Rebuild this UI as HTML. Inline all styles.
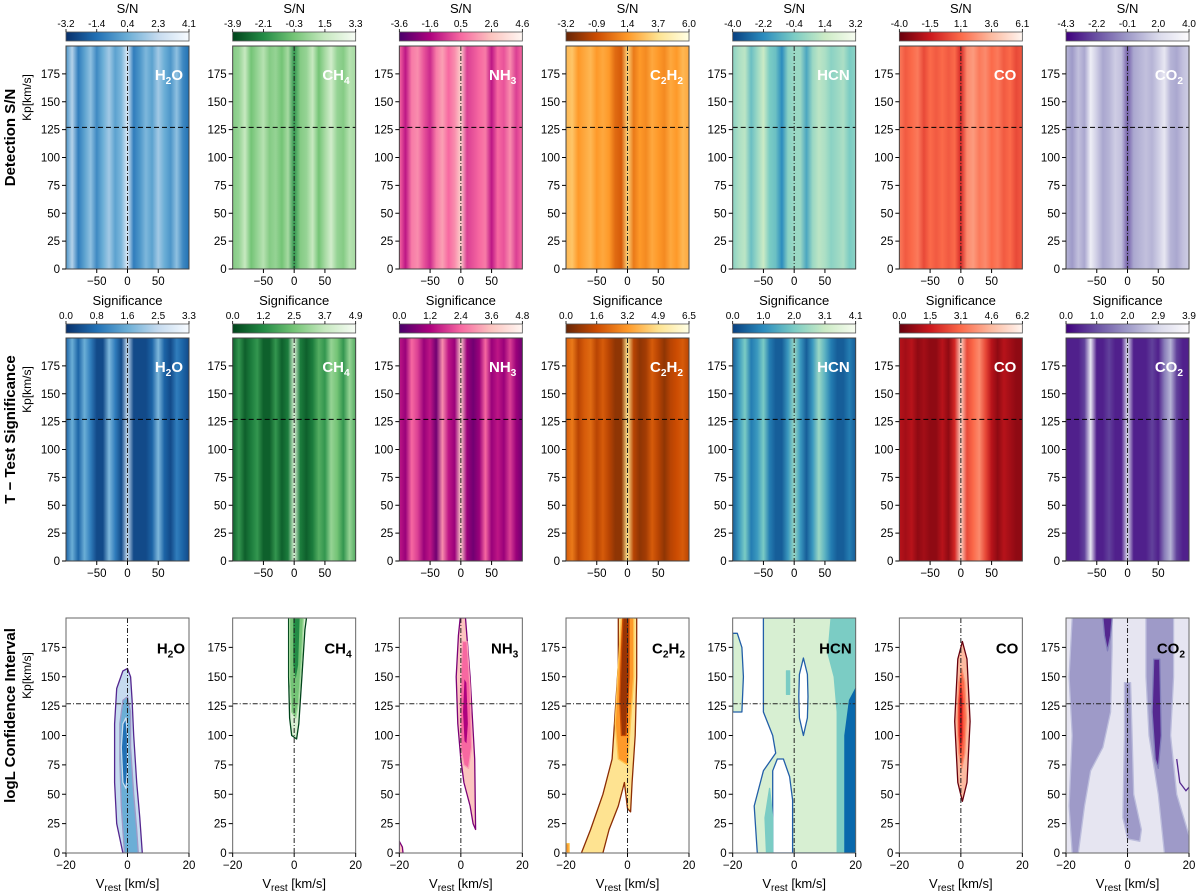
<!DOCTYPE html>
<html><head><meta charset="utf-8"><style>
html,body{margin:0;padding:0;background:#fff;}
svg{display:block;font-family:"Liberation Sans",Arial,sans-serif;}
</style></head><body>
<svg id="fig" width="1200" height="893" viewBox="0 0 1200 893" xmlns="http://www.w3.org/2000/svg"></svg>
<script>
const species = ['H2O','CH4','NH3','C2H2','HCN','CO','CO2'];
const speciesHtml = [['H','2','O'],['CH','4',''],['NH','3',''],['C','2','H','2'],['HCN'],['CO'],['CO','2','']];
const vGrid = [-100,-90,-80,-70,-60,-50,-40,-30,-20,-10,0,10,20,30,40,50,60,70,80,90,100];
const snRow = [
 [0.4,0.7,0.3,0.45,0.6,0.35,0.5,0.65,0.45,0.55,0.85,0.3,0.4,0.55,0.45,0.65,0.5,0.4,0.6,0.35,0.25],
 [0.55,0.6,0.75,0.5,0.6,0.7,0.55,0.6,0.5,0.65,0.3,0.55,0.6,0.75,0.5,0.65,0.8,0.6,0.55,0.7,0.65],
 [0.5,0.3,0.55,0.6,0.45,0.35,0.55,0.65,0.5,0.6,0.8,0.4,0.45,0.5,0.55,0.3,0.5,0.45,0.6,0.4,0.5],
 [0.6,0.65,0.5,0.55,0.6,0.5,0.55,0.5,0.35,0.3,0.7,0.4,0.5,0.45,0.55,0.5,0.45,0.55,0.5,0.6,0.55],
 [0.55,0.65,0.7,0.45,0.6,0.75,0.5,0.45,0.25,0.55,0.6,0.6,0.35,0.6,0.7,0.65,0.55,0.6,0.65,0.5,0.55],
 [0.55,0.45,0.5,0.55,0.4,0.5,0.45,0.5,0.45,0.5,0.3,0.6,0.65,0.55,0.6,0.5,0.55,0.45,0.5,0.4,0.45],
 [0.6,0.5,0.65,0.55,0.9,0.7,0.55,0.6,0.7,0.65,0.3,0.55,0.6,0.65,0.6,0.7,0.85,0.6,0.55,0.65,0.7]];
const sigRow = [
 [0.2,0.5,0.2,0.5,0.3,0.1,0.1,0.55,0.3,0.1,0.75,0.1,0.1,0.1,0.2,0.55,0.2,0.1,0.3,0.2,0.1],
 [0.1,0.3,0.1,0.2,0.3,0.1,0.1,0.3,0.1,0.2,0.85,0.2,0.1,0.2,0.4,0.3,0.6,0.5,0.3,0.6,0.4],
 [0.3,0.2,0.5,0.4,0.2,0.3,0.1,0.6,0.3,0.2,0.8,0.2,0.1,0.2,0.5,0.2,0.3,0.2,0.4,0.2,0.1],
 [0.3,0.4,0.2,0.3,0.35,0.2,0.3,0.2,0.1,0.1,0.75,0.2,0.1,0.15,0.3,0.2,0.1,0.2,0.25,0.3,0.2],
 [0.1,0.3,0.5,0.2,0.3,0.5,0.2,0.1,0.1,0.3,0.6,0.3,0.1,0.3,0.6,0.4,0.2,0.1,0.1,0.2,0.1],
 [0.2,0.15,0.2,0.1,0.15,0.1,0.1,0.2,0.1,0.3,0.85,0.4,0.5,0.6,0.4,0.2,0.1,0.2,0.15,0.1,0.1],
 [0.1,0.1,0.1,0.2,0.85,0.1,0.1,0.2,0.1,0.1,0.75,0.1,0.1,0.1,0.2,0.1,0.4,0.6,0.2,0.1,0.1]];
const snTicks = [[-3.2,-1.4,0.4,2.3,4.1],[-3.9,-2.1,-0.3,1.5,3.3],[-3.6,-1.6,0.5,2.6,4.6],[-3.2,-0.9,1.4,3.7,6.0],[-4.0,-2.2,-0.4,1.4,3.2],[-4.0,-1.5,1.1,3.6,6.1],[-4.3,-2.2,-0.1,2.0,4.0]];
const sigTicks = [[0.0,0.8,1.6,2.5,3.3],[0.0,1.2,2.5,3.7,4.9],[0.0,1.2,2.4,3.6,4.8],[0.0,1.6,3.2,4.9,6.5],[0.0,1.0,2.0,3.1,4.1],[0.0,1.5,3.1,4.6,6.2],[0.0,1.0,2.0,2.9,3.9]];
const kpTicks = [0,25,50,75,100,125,150,175];
const kpLine = 127;
const cmaps = [
 ['#08306b','#2171b5','#6baed6','#c6dbef','#f7fbff'],
 ['#00441b','#238b45','#74c476','#c7e9c0','#f7fcf5'],
 ['#49006a','#ae017e','#f768a1','#fcc5c0','#fff7f3'],
 ['#662506','#cc4c02','#fe9929','#fee391','#ffffe5'],
 ['#084081','#2b8cbe','#7bccc4','#ccebc5','#f7fcf0'],
 ['#67000d','#cb181d','#fb6a4a','#fcbba1','#fff5f0'],
 ['#3f007d','#6a51a3','#9e9ac8','#dadaeb','#fcfbfd']];
// contour regions (v km/s, Kp km/s)
const contours = [
 [{c:'#c6dbef',e:'#54278f',p:[[-1.5,0],[-3.5,25],[-4.2,60],[-4.2,110],[-3.5,140],[-1.5,155],[0,157],[1,150],[1.5,130],[2,100],[3,60],[4,30],[4.8,0]]},
  {c:'#6baed6',e:'#9e9ac8',p:[[-1,0],[-2,40],[-2.5,80],[-2.5,110],[-1.5,130],[0,133],[1,120],[1,90],[2,50],[3,20],[3.5,0]]},
  {c:'#2171b5',e:'#c6dbef',p:[[-1.5,60],[-2,90],[-1.5,110],[-0.5,115],[0,100],[0,70],[-0.5,55]]}],
 [{c:'#d9f0d3',e:'#00441b',p:[[-1.8,200],[-1.8,150],[-1.5,115],[-0.8,100],[0.8,97],[1.5,110],[2.5,150],[3.5,190],[4,200]]},
  {c:'#74c476',e:'#a1d99b',p:[[-1.5,200],[-1.5,150],[-0.8,120],[0.5,115],[1.5,130],[2.5,170],[3,200]]},
  {c:'#238b45',e:'#74c476',p:[[-0.5,200],[-0.5,160],[0.5,145],[1.5,160],[2,200]]}],
 [{c:'#fcc5c0',e:'#7a0177',p:[[-0.2,200],[1.5,200],[3,150],[4.5,80],[4.8,20],[4,25],[3,40],[1,60],[0,80],[-1,110],[-1.5,150],[-0.8,185]]},
  {c:'#fcc5c0',e:'#7a0177',p:[[-20,0],[-20,10],[-19,5],[-18.8,0]]},
  {c:'#f768a1',e:'#fa9fb5',p:[[0.5,180],[2,180],[3,140],[3.5,90],[2.5,72],[1,75],[0,90],[-0.2,130]]},
  {c:'#ae017e',e:'#f768a1',p:[[1,150],[2,145],[2.5,110],[2,92],[1,95],[0.5,120]]}],
 [{c:'#fee391',e:'#8c2d04',p:[[-3,200],[3,200],[3,150],[2.5,100],[1.5,60],[1,35],[0,38],[-1,60],[-3,40],[-6,20],[-8,0],[-15,0],[-12,20],[-8,50],[-5,80],[-4,120],[-3,160]]},
  {c:'#fe9929',e:'#fec44f',p:[[-20,0],[-20,8],[-19,8],[-19,0]]},
  {c:'#fe9929',e:'#fec44f',p:[[-2,200],[2,200],[2,150],[0,75],[-3,80],[-4,110],[-3,160]]},
  {c:'#993404',e:'#cc4c02',p:[[-1.5,200],[0.5,200],[0.5,150],[-0.5,100],[-2,100],[-2.5,130],[-2,170]]}],
 [{c:'#d7efd2',e:'#225ea8',p:[[-10,200],[-10,120],[-7,100],[-6,85],[-10,70],[-13,40],[-12,0],[20,0],[20,200]]},
  {c:'#ffffff',e:'#225ea8',p:[[-7,0],[-7,70],[-5.5,80],[-3.5,80],[-1.5,65],[-0.5,45],[-0.5,0]]},
  {c:'#ffffff',e:'#225ea8',p:[[3,100],[4.3,115],[4.5,133],[4.3,152],[3,166],[1.7,152],[1.5,133],[1.7,115]]},
  {c:'#d7efd2',e:'#225ea8',p:[[-20,120],[-20,187],[-18.5,187],[-17,175],[-16.5,150],[-17,120]]},
  {c:'#7bccc4',e:'#7bccc4',p:[[12,200],[11,170],[13,150],[14,120],[14,0],[20,0],[20,200]]},
  {c:'#7bccc4',e:'#7bccc4',p:[[-9,0],[-9.5,30],[-8,55],[-7,30],[-7,0]]},
  {c:'#7bccc4',e:'#7bccc4',p:[[-2.5,135],[-2.5,155],[-1.5,155],[-1.5,135]]},
  {c:'#0868ac',e:'#0868ac',p:[[16.5,0],[16.5,100],[18,130],[20,140],[20,0]]}],
 [{c:'#fcbba1',e:'#67000d',p:[[0.5,44],[2,60],[3,112],[2,165],[0.5,180],[-1,165],[-2,112],[-1,60]]},
  {c:'#fb6a4a',e:'#fc9272',p:[[0.3,72],[1.3,85],[1.8,115],[1.3,145],[0.3,157],[-0.7,145],[-1.2,115],[-0.7,85]]},
  {c:'#cb181d',e:'#ef3b2c',p:[[0,85],[0.6,100],[0.6,130],[0,145],[-0.6,130],[-0.6,100]]}],
 [{c:'#e6e5f1',e:'#e6e5f1',p:[[-20,0],[-20,200],[20,200],[20,0]]},
  {c:'#9e9ac8',e:'#bcbddc',p:[[-18,200],[-5,200],[-5,175],[-5.5,120],[-8,90],[-12,70],[-14,40],[-16,0],[-18,0],[-19,40],[-18,100],[-19,150]]},
  {c:'#9e9ac8',e:'#bcbddc',p:[[-1,145],[1,145],[1.5,100],[2,50],[4.5,20],[4,10],[0,12],[-1.5,30],[-1,100]]},
  {c:'#9e9ac8',e:'#bcbddc',p:[[6,200],[15,200],[15,150],[14,100],[16,50],[20,15],[20,0],[12,0],[10,50],[7,100],[6,150]]},
  {c:'#54278f',e:'#807dba',p:[[-8,200],[-5,200],[-5.5,185],[-6.5,172],[-7.5,185]]},
  {c:'#54278f',e:'#807dba',p:[[8.5,165],[10.5,165],[11,100],[10,72],[9,80],[8,120]]}]
];
const co2Line = [[16,80],[17,60],[19,53],[20,56]];

const NS='http://www.w3.org/2000/svg';
const svg=document.getElementById('fig');
function mk(tag,attrs,parent){const e=document.createElementNS(NS,tag);for(const k in attrs)e.setAttribute(k,attrs[k]);(parent||svg).appendChild(e);return e;}
function hex(h){return [parseInt(h.slice(1,3),16),parseInt(h.slice(3,5),16),parseInt(h.slice(5,7),16)];}
function cmap(stops,t){t=Math.max(0,Math.min(1,t));const s=t*(stops.length-1);const i=Math.min(stops.length-2,Math.floor(s));const f=s-i;const a=hex(stops[i]),b=hex(stops[i+1]);return 'rgb('+a.map((v,k)=>Math.round(v+(b[k]-v)*f)).join(',')+')';}

const PW=123, colL=i=>66+166.67*i;
const rows=[{top:46,h:223},{top:338,h:223},{top:618,h:235}];
const defs=mk('defs',{});

function addLabel(g,x,y,parts,color,size){
  const t=mk('text',{x:x,y:y,'text-anchor':'end','font-size':size,'font-weight':'bold',fill:color},g);
  
  
  parts.forEach((p,k)=>{const ts=mk('tspan',{},t);ts.textContent=p;if(k%2===1){ts.setAttribute('font-size',size*0.68);ts.setAttribute('dy',4);}else if(k>0){ts.setAttribute('dy',-4);}});
}
function yAxis(g,x0,top,h){
  kpTicks.forEach(v=>{const y=top+h-v/200*h;
    mk('line',{x1:x0-4,x2:x0,y1:y,y2:y,stroke:'#000','stroke-width':1},g);
    const t=mk('text',{x:x0-6,y:y+4,'text-anchor':'end','font-size':11.5,fill:'#000'},g);t.textContent=v;});
}
function xAxis(g,x0,bot,vals,vmin,vmax){
  vals.forEach(v=>{const x=x0+(v-vmin)/(vmax-vmin)*PW;
    mk('line',{x1:x,x2:x,y1:bot,y2:bot+4,stroke:'#000','stroke-width':1},g);
    const t=mk('text',{x:x,y:bot+16,'text-anchor':'middle','font-size':11.5,fill:'#000'},g);t.textContent=(v<0?'\u2212'+(-v):v);});
}
function colorbar(g,x0,y,ticks,stops,title,id){
  const lg=mk('linearGradient',{id:id,x1:0,x2:1,y1:0,y2:0},defs);
  stops.forEach((s,k)=>mk('stop',{offset:k/(stops.length-1),'stop-color':s},lg));
  const r=mk('rect',{x:x0,y:y,width:PW,height:9,fill:'url(#'+id+')',stroke:'#555','stroke-width':0.8},g);
  
  
  ticks.forEach((v,k)=>{const x=x0+k/(ticks.length-1)*PW;
    mk('line',{x1:x,x2:x,y1:y,y2:y-3,stroke:'#000','stroke-width':0.8},g);
    const t=mk('text',{x:x,y:y-5,'text-anchor':'middle','font-size':10,fill:'#000'},g);t.textContent=v.toFixed(1);});
  const tt=mk('text',{x:x0+PW/2,y:y-19,'text-anchor':'middle','font-size':13,fill:'#000'},g);tt.textContent=title;
  
  
}

for(let i=0;i<7;i++){
  const x0=colL(i);
  for(let r=0;r<2;r++){
    const R=rows[r];const data=r===0?snRow[i]:sigRow[i];
    const g=mk('g',{});
    
    
    const gid='hm'+r+'_'+i;
    const lg=mk('linearGradient',{id:gid,gradientUnits:'userSpaceOnUse',x1:x0,x2:x0+PW,y1:0,y2:0},defs);
    vGrid.forEach((v,k)=>mk('stop',{offset:((v+100)/200).toFixed(3),'stop-color':cmap(cmaps[i],data[k])},lg));
    mk('rect',{x:x0,y:R.top,width:PW,height:R.h,fill:'url(#'+gid+')'},g);
    const xz=x0+PW/2, yk=R.top+R.h-kpLine/200*R.h;
    mk('line',{x1:xz,x2:xz,y1:R.top,y2:R.top+R.h,stroke:'#222','stroke-width':1,'stroke-dasharray':'5,2,1,2'},g);
    mk('line',{x1:x0,x2:x0+PW,y1:yk,y2:yk,stroke:'#000','stroke-width':1,'stroke-dasharray':'5,3'},g);
    mk('rect',{x:x0,y:R.top,width:PW,height:R.h,fill:'none',stroke:'#444','stroke-width':1},g);
    addLabel(g,x0+PW-6,R.top+R.h-175/200*R.h+6,speciesHtml[i],'#fff',15);
    yAxis(g,x0,R.top,R.h);
    xAxis(g,x0,R.top+R.h,[-50,0,50],-100,100);
    colorbar(g,x0,r===0?32:324,r===0?snTicks[i]:sigTicks[i],cmaps[i],r===0?'S/N':'Significance','cb'+r+'_'+i);
  }
  // row 3
  const R=rows[2];
  const g=mk('g',{});
  
  
  const cid='clip'+i;const cp=mk('clipPath',{id:cid},defs);mk('rect',{x:x0,y:R.top,width:PW,height:R.h},cp);
  const cg=mk('g',{'clip-path':'url(#'+cid+')'},g);
  const sx=v=>x0+(v+20)/40*PW, sy=k=>R.top+R.h-k/200*R.h;
  contours[i].forEach(reg=>{
    const pts=reg.p.map(q=>sx(q[0]).toFixed(1)+','+sy(q[1]).toFixed(1)).join(' ');
    const pg=mk('polygon',{points:pts,fill:reg.c,stroke:reg.e,'stroke-width':1.3,'stroke-linejoin':'round'},cg);
    
    
  });
  if(i===6){mk('polyline',{points:co2Line.map(q=>sx(q[0])+','+sy(q[1])).join(' '),fill:'none',stroke:'#54278f','stroke-width':1.3},cg);}
  const xz=sx(0), yk=sy(kpLine);
  mk('line',{x1:xz,x2:xz,y1:R.top,y2:R.top+R.h,stroke:'#222','stroke-width':1,'stroke-dasharray':'5,2,1,2'},g);
  mk('line',{x1:x0,x2:x0+PW,y1:yk,y2:yk,stroke:'#222','stroke-width':1,'stroke-dasharray':'5,2,1,2'},g);
  mk('rect',{x:x0,y:R.top,width:PW,height:R.h,fill:'none',stroke:'#666','stroke-width':1},g);
  addLabel(g,x0+PW-4,sy(175)+6,speciesHtml[i],'#000',15);
  yAxis(g,x0,R.top,R.h);
  xAxis(g,x0,R.top+R.h,[-20,0,20],-20,20);
  const xl=mk('text',{x:x0+PW/2,y:R.top+R.h+35,'text-anchor':'middle','font-size':13,fill:'#000'},g);
  
  
  const a=mk('tspan',{},xl);a.textContent='V';const b=mk('tspan',{'font-size':10,dy:3},xl);b.textContent='rest';const c=mk('tspan',{dy:-3},xl);c.textContent=' [km/s]';
}
// row labels
[['Detection S/N',rows[0]],['T \u2212 Test Significance',rows[1]],['logL Confidence Interval',rows[2]]].forEach(([txt,R])=>{
  const cy=R.top+R.h/2-20;
  const t=mk('text',{x:15,y:cy,'text-anchor':'middle','font-size':15,'font-weight':'bold',transform:'rotate(-90 15 '+cy+')'});t.textContent=txt;
  
  
  const ky=R.top+R.h/2-60;
  const k=mk('text',{x:31,y:ky,'text-anchor':'middle','font-size':12,transform:'rotate(-90 31 '+ky+')'});k.textContent='Kp[km/s]';
  
  
});
</script>
</body></html>
